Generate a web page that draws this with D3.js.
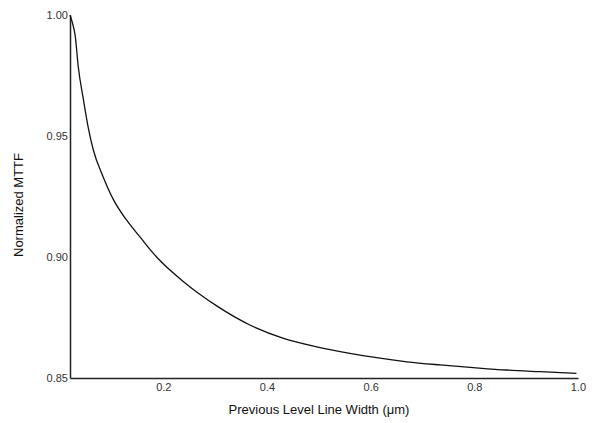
<!DOCTYPE html>
<meta charset="utf-8">
<title>Normalized MTTF vs previous level line width</title>
<style>
  body { margin: 0; background: #fff; font-family: "Liberation Sans", Arial, sans-serif; }
  .axis text { font-size: 11px; fill: #333; }
  .axis path { stroke: #222; stroke-width: 1.5; }
  .title { font-size: 13px; fill: #111; }
  path.curve { fill: none; stroke: #111; stroke-width: 1.3; }
</style>
<body>
<script src="https://cdn.jsdelivr.net/npm/d3@7"></script>
<script>
  // values
  var widthUm = [0.02, 0.025, 0.03, 0.036, 0.046, 0.055, 0.065, 0.084, 0.104, 0.129, 0.155, 0.187,
                 0.239, 0.271, 0.303, 0.367, 0.432, 0.496, 0.56, 0.605, 0.67, 0.734, 0.798,
                 0.862, 0.927, 0.997];
  var mttf = [1.000, 0.9965, 0.9915, 0.9785, 0.9649, 0.9537, 0.9442, 0.9331, 0.9236, 0.9153, 0.9083, 0.9000,
              0.8898, 0.8845, 0.8798, 0.8719, 0.8664, 0.8629, 0.8602, 0.8586, 0.8567, 0.8554, 0.8543,
              0.8533, 0.8526, 0.8519];
  var xTicks = [0.2, 0.4, 0.6, 0.8, 1.0];
  var yTicks = [0.85, 0.90, 0.95, 1.00];

  var margin = {top: 15, right: 14, bottom: 45, left: 70},
      W = 592, H = 423,
      width = W - margin.left - margin.right,
      height = H - margin.top - margin.bottom;

  var x = d3.scaleLinear().domain([0.02, 1.0]).range([0, width]);
  var y = d3.scaleLinear().domain([0.85, 1.0]).range([height, 0]);

  var svg = d3.select("body").append("svg")
      .attr("width", W)
      .attr("height", H)
    .append("g")
      .attr("transform", "translate(" + margin.left + "," + margin.top + ")");

  var xAxis = d3.axisBottom(x).tickValues(xTicks).tickFormat(d3.format(".1f"))
      .tickSize(0).tickPadding(5);
  var yAxis = d3.axisLeft(y).tickValues(yTicks).tickFormat(d3.format(".2f"))
      .tickSize(0).tickPadding(2);

  svg.append("g")
      .attr("class", "x axis")
      .attr("transform", "translate(0," + height + ")")
      .call(xAxis);

  svg.append("g")
      .attr("class", "y axis")
      .call(yAxis);

  var line = d3.line()
      .x(function(d, i) { return x(widthUm[i]); })
      .y(function(d) { return y(d); })
      .curve(d3.curveMonotoneX);

  svg.append("path")
      .datum(mttf)
      .attr("class", "curve")
      .attr("d", line);

  svg.append("text")
      .attr("class", "title")
      .attr("x", width / 2 - 5)
      .attr("y", height + 36)
      .attr("text-anchor", "middle")
      .text("Previous Level Line Width (μm)");

  svg.append("text")
      .attr("class", "title")
      .attr("transform", "rotate(-90)")
      .attr("x", -190)
      .attr("y", -47)
      .attr("text-anchor", "middle")
      .text("Normalized MTTF");
</script>
</body>
